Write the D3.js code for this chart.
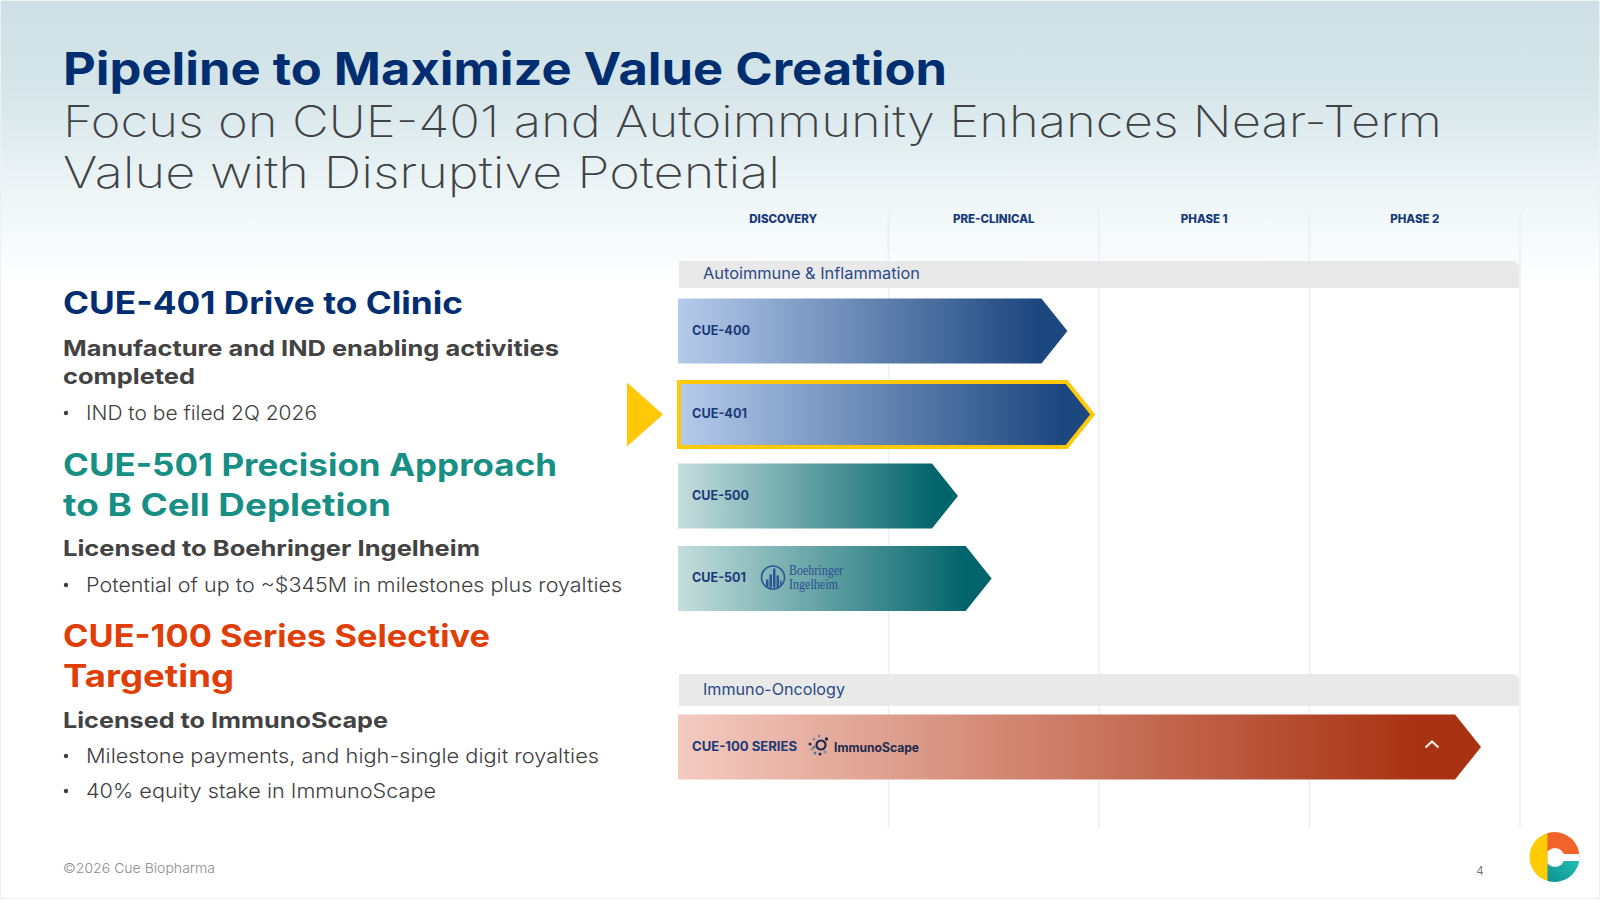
<!DOCTYPE html>
<html>
<head>
<meta charset="utf-8">
<title>Pipeline to Maximize Value Creation</title>
<script src="https://cdn.jsdelivr.net/npm/d3@7"></script>
<style>
  html, body { margin: 0; padding: 0; background: #fff; }
  svg { display: block; }
  text { font-family: "Inter", "Noto Sans", sans-serif; }
</style>
</head>
<body>
<div id="slide"></div>
<script>
// chart values
var stages = ["DISCOVERY", "PRE-CLINICAL", "PHASE 1", "PHASE 2"];
var programs = ["CUE-400", "CUE-401", "CUE-500", "CUE-501", "CUE-100 SERIES"];
var progress = [1.85, 1.97, 1.33, 1.49, 3.815]; // arrow tip, in stages reached
var families = ["blue", "blue", "teal", "teal", "red"];
var groups = ["Autoimmune & Inflammation", "Immuno-Oncology"];
var highlighted = "CUE-401";

// slide copy
var titleLines = ["Pipeline to Maximize Value Creation"];
var subtitleLines = ["Focus on CUE-401 and Autoimmunity Enhances Near-Term", "Value with Disruptive Potential"];
var copyText = [
  "CUE-401 Drive to Clinic",
  "Manufacture and IND enabling activities", "completed",
  "IND to be filed 2Q 2026",
  "CUE-501 Precision Approach", "to B Cell Depletion",
  "Licensed to Boehringer Ingelheim",
  "Potential of up to ~$345M in milestones plus royalties",
  "CUE-100 Series Selective", "Targeting",
  "Licensed to ImmunoScape",
  "Milestone payments, and high-single digit royalties",
  "40% equity stake in ImmunoScape"
];
var copyKind = ["navy", "sub", "sub", "bullet", "teal", "teal", "sub", "bullet", "red", "red", "sub", "bullet", "bullet"];

// layout, measured off the slide
var W = 1600, H = 900;
var copyBaseline = [314, 356, 384, 420, 476, 516, 556, 592, 647, 687, 728, 763, 798];
var copyRight = [463, 559, 195, 317, 557, 391, 480, 622, 490, 234, 388, 599, 436];
var kindStyle = {
  navy:   { size: 31, weight: 700, fill: "#012e70", x: 63 },
  teal:   { size: 31, weight: 700, fill: "#178f85", x: 63 },
  red:    { size: 31, weight: 700, fill: "#e03e06", x: 63 },
  sub:    { size: 22, weight: 700, fill: "#434343", x: 63 },
  bullet: { size: 20, weight: 300, fill: "#3e3e3e", x: 86 }
};
var rowCenters = [331, 414.5, 496, 578.5, 747];
var barHeight = 65, headDepth = 26;
var plotLeft = 678, plotRight = 1520, plotTop = 212, plotBottom = 828;
var groupBands = [[261, 288], [674, 706]];
var gradientStops = {
  blue: ["#b6cbeb", "#1d477f"],
  teal: ["#c5dedd", "#00646a"],
  red:  ["#f4cbc1", "#a83212"]
};

var svg = d3.select("#slide").append("svg").attr("width", W).attr("height", H);
var defs = svg.append("defs");

var bg = defs.append("linearGradient").attr("id", "bgGrad").attr("x1", 0).attr("y1", 0).attr("x2", 0).attr("y2", 1);
bg.append("stop").attr("offset", "0%").attr("stop-color", "#cde0e5");
bg.append("stop").attr("offset", "30%").attr("stop-color", "#d5e5e9");
bg.append("stop").attr("offset", "68%").attr("stop-color", "#eef5f7");
bg.append("stop").attr("offset", "100%").attr("stop-color", "#ffffff");

Object.keys(gradientStops).forEach(function(k){
  var g = defs.append("linearGradient").attr("id", "grad-" + k);
  g.append("stop").attr("offset", "0%").attr("stop-color", gradientStops[k][0]);
  g.append("stop").attr("offset", "92%").attr("stop-color", gradientStops[k][1]);
});

svg.append("rect").attr("width", W).attr("height", H).attr("fill", "#fff");
svg.append("rect").attr("width", W).attr("height", 285).attr("fill", "url(#bgGrad)");
svg.append("rect").attr("x", 0.5).attr("y", 0.5).attr("width", W - 1).attr("height", H - 2)
  .attr("fill", "none").attr("stroke", "#eef0f1");

// fits a line to the width it has on the slide, the installed font is narrower than the deck's
function fitted(sel, x, y, right, size, weight, fill, str){
  return sel.append("text")
    .attr("x", x).attr("y", y)
    .attr("textLength", right - x)
    .attr("lengthAdjust", "spacingAndGlyphs")
    .attr("font-size", size)
    .attr("font-weight", weight)
    .attr("fill", fill)
    .text(str);
}

fitted(svg, 63, 85, 947, 45, 700, "#012e70", titleLines[0]);
fitted(svg, 63, 137, 1442, 44, 200, "#3f4346", subtitleLines[0]);
fitted(svg, 63, 188, 780, 44, 200, "#3f4346", subtitleLines[1]);

copyText.forEach(function(str, i){
  var s = kindStyle[copyKind[i]];
  fitted(svg, s.x, copyBaseline[i], copyRight[i], s.size, s.weight, s.fill, str);
  if(copyKind[i] === "bullet"){
    svg.append("circle").attr("cx", 66).attr("cy", copyBaseline[i] - 7).attr("r", 2.2).attr("fill", "#3e3e3e");
  }
});

// chart
var stageBand = d3.scaleBand().domain(stages).range([plotLeft, plotRight]);
var x = d3.scaleLinear().domain([0, stages.length]).range([plotLeft, plotRight]);
var y = d3.scaleOrdinal().domain(programs).range(rowCenters);

svg.selectAll(".grid")
  .data(d3.range(1, stages.length + 1))
  .enter().append("line")
    .attr("class", "grid")
    .attr("x1", function(d){ return x(d); })
    .attr("x2", function(d){ return x(d); })
    .attr("y1", plotTop).attr("y2", plotBottom)
    .attr("stroke", "#eceef2").attr("stroke-width", 1.5);

var axis = svg.append("g")
  .attr("transform", "translate(0,223)")
  .call(d3.axisTop(stageBand).tickSize(0).tickPadding(0));
axis.select(".domain").remove();
axis.selectAll("text")
  .attr("font-family", "Inter")
  .attr("font-size", 11.5)
  .attr("font-weight", 800)
  .attr("fill", "#173a7a")
  .attr("dy", 0);

groups.forEach(function(name, i){
  var b = groupBands[i];
  var r = 7;
  svg.append("path")
    .attr("d", "M" + 679 + "," + b[0] + "H" + (plotRight - 1 - r) + "Q" + (plotRight - 1) + "," + b[0] + " " + (plotRight - 1) + "," + (b[0] + r) + "V" + b[1] + "H679Z")
    .attr("fill", "#e9e9ea");
  svg.append("text")
    .attr("x", 703).attr("y", b[1] - (i === 0 ? 9 : 11))
    .attr("textLength", i === 0 ? 217 : 142)
    .attr("lengthAdjust", "spacingAndGlyphs")
    .attr("font-size", 15.5).attr("font-weight", 400).attr("fill", "#2a4a86")
    .text(name);
});

function arrowPath(name, value, left, h){
  var cy = y(name), tip = x(value);
  return "M" + left + "," + (cy - h / 2) +
    "L" + (tip - headDepth) + "," + (cy - h / 2) +
    "L" + tip + "," + cy +
    "L" + (tip - headDepth) + "," + (cy + h / 2) +
    "L" + left + "," + (cy + h / 2) + "Z";
}

var rows = programs.map(function(p, i){ return { name: p, value: progress[i], family: families[i] }; });

svg.selectAll(".bar")
  .data(rows)
  .enter().append("path")
    .attr("class", "bar")
    .attr("d", function(d){
      return d.name === highlighted ? arrowPath(d.name, d.value, plotLeft + 1, barHeight) : arrowPath(d.name, d.value, plotLeft, barHeight);
    })
    .attr("fill", function(d){ return "url(#grad-" + d.family + ")"; })
    .attr("stroke", function(d){ return d.name === highlighted ? "#ffc907" : "none"; })
    .attr("stroke-width", 4);

var labelWidth = { "CUE-400": 58, "CUE-401": 55, "CUE-500": 57, "CUE-501": 54, "CUE-100 SERIES": 105 };
svg.selectAll(".barlabel")
  .data(rows)
  .enter().append("text")
    .attr("class", "barlabel")
    .attr("x", 692)
    .attr("y", function(d){ return y(d.name) + 3.5; })
    .attr("textLength", function(d){ return labelWidth[d.name]; })
    .attr("lengthAdjust", "spacingAndGlyphs")
    .attr("font-size", 13).attr("font-weight", 700).attr("fill", "#1b3a78")
    .text(function(d){ return d.name; });

// pointer at the lead program
var py = y(highlighted);
svg.append("path")
  .attr("d", "M627," + (py - 32) + "L663," + py + "L627," + (py + 32) + "Z")
  .attr("fill", "#ffc907");

// partner marks
var bi = svg.append("g").attr("transform", "translate(773," + (y("CUE-501") - 1) + ")");
bi.append("circle").attr("r", 11.5).attr("fill", "none").attr("stroke", "#2c5595").attr("stroke-width", 1.6);
bi.append("path")
  .attr("d", "M-7,9V2H-4.5V9ZM-3.5,10V-3H-1V10ZM0,10V-9H2.5V10ZM3.5,10V-2H6V10ZM7,8V3H8.5V8Z")
  .attr("fill", "#2c5595");
fitted(svg, 789, y("CUE-501") - 3.5, 843, 14.5, 400, "#2c4f90", "Boehringer").style("font-family", "Liberation Serif");
fitted(svg, 789, y("CUE-501") + 10.5, 838, 14.5, 400, "#2c4f90", "Ingelheim").style("font-family", "Liberation Serif");

var im = svg.append("g").attr("transform", "translate(821," + (y("CUE-100 SERIES") - 2) + ")");
im.append("circle").attr("r", 4.5).attr("fill", "none").attr("stroke", "#1d2b4f").attr("stroke-width", 2.2);
im.append("circle").attr("cx", 5.5).attr("cy", -6).attr("r", 1.7).attr("fill", "#1d2b4f");
[[-11, -1, "#1d2b4f"], [-9, 4, "#7f8ea6"], [-7, -6, "#7f8ea6"], [-2, -9, "#7f8ea6"], [-6, 8, "#5e7696"], [-1, 9, "#1d2b4f"], [4, 7, "#7f8ea6"], [-7, 2, "#5e7696"]]
  .forEach(function(p){
    im.append("circle").attr("cx", p[0]).attr("cy", p[1]).attr("r", 1.5).attr("fill", p[2]);
  });
fitted(svg, 834, y("CUE-100 SERIES") + 5, 919, 12.5, 700, "#1d2b4f", "ImmunoScape");

svg.append("path")
  .attr("d", "M1425.5,747.5L1432,741.5L1438.5,747.5")
  .attr("fill", "none").attr("stroke", "#fbeee9").attr("stroke-width", 2.2);

// footer
svg.append("text").attr("x", 63).attr("y", 873)
  .attr("textLength", 152).attr("lengthAdjust", "spacingAndGlyphs")
  .attr("font-size", 13.5).attr("font-weight", 300).attr("fill", "#8b8b8b")
  .text("©2026 Cue Biopharma");
svg.append("text").attr("x", 1480).attr("y", 875).attr("text-anchor", "middle")
  .attr("font-size", 11.5).attr("fill", "#777").text("4");

// company mark
var tealGrad = defs.append("linearGradient").attr("id", "logoTeal").attr("x1", 0).attr("y1", 1).attr("x2", 1).attr("y2", 0);
tealGrad.append("stop").attr("offset", "0%").attr("stop-color", "#0d8f8f");
tealGrad.append("stop").attr("offset", "100%").attr("stop-color", "#25c4b8");
defs.append("clipPath").attr("id", "logoClip").append("circle").attr("cx", 1554.5).attr("cy", 857).attr("r", 25);
defs.append("clipPath").attr("id", "holeClip").append("rect").attr("x", 1547.5).attr("y", 830).attr("width", 40).attr("height", 54);
var logo = svg.append("g").attr("clip-path", "url(#logoClip)");
logo.append("rect").attr("x", 1529).attr("y", 830).attr("width", 19).attr("height", 54).attr("fill", "#ffcb05");
logo.append("rect").attr("x", 1547.5).attr("y", 830).attr("width", 34).attr("height", 27).attr("fill", "#f0632b");
logo.append("rect").attr("x", 1547.5).attr("y", 857).attr("width", 34).attr("height", 27).attr("fill", "url(#logoTeal)");
logo.append("circle").attr("cx", 1555).attr("cy", 857.5).attr("r", 9.5).attr("fill", "#fff").attr("clip-path", "url(#holeClip)");
logo.append("rect").attr("x", 1555).attr("y", 854).attr("width", 30).attr("height", 7).attr("fill", "#fff");
</script>
</body>
</html>
